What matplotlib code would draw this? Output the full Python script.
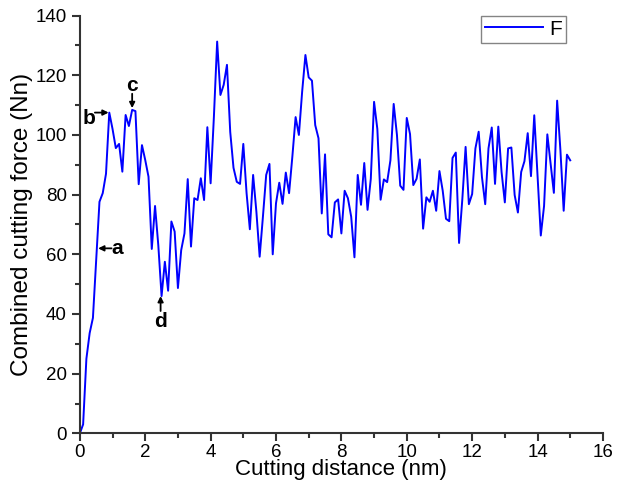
# import relevant libraries
import numpy as np
import matplotlib.pyplot as plt
from matplotlib.ticker import MultipleLocator

plt.rcParams['font.family'] = ['Liberation Sans', 'DejaVu Sans']

# combined cutting force, sampled every 0.1 nm from 0 to 15 nm
force = [0, 3, 25, 33.6, 38.7, 58, 77.6, 80.5, 87, 107.5,
         102, 95.6, 97, 87.7, 106.7, 103, 108.4, 108, 83.5, 96.6,
         91.6, 86, 61.8, 76.2, 63, 46, 57.5, 47.8, 71, 67.6,
         48.7, 61.4, 67, 85.2, 62.6, 78.8, 78.2, 85.5, 78.2, 102.6,
         83.8, 106, 131.3, 113.4, 116.8, 123.5, 101, 89, 84.3, 83.6,
         97, 80.5, 68.4, 86.6, 74.3, 59.2, 72.6, 86.6, 90.3, 60,
         77.1, 84, 76.9, 87.4, 80.5, 92.7, 106, 100, 114.5, 126.8,
         119.3, 118.2, 103.3, 98.9, 73.7, 93.5, 66.7, 65.7, 77.4, 78.4,
         67, 81.3, 78.8, 72.6, 59, 86.6, 76.6, 90.6, 74.9, 85.3,
         111.1, 102, 78.3, 85.1, 84.2, 91.5, 110.4, 100, 83, 81.6,
         105.7, 100.3, 83.2, 85.3, 91.8, 68.6, 79.1, 77.6, 81.3, 74.6,
         87.9, 81.3, 71.9, 71.1, 92.3, 94.1, 63.8, 78.5, 96, 76.8,
         80.2, 95.5, 101.1, 85.9, 76.8, 95.5, 102.5, 83.6, 102.8, 87.6,
         77.4, 95.5, 95.8, 79.9, 74, 87.6, 91.2, 100.6, 86.2, 106.6,
         86.4, 66.3, 76.2, 100.2, 90.4, 80.6, 111.5, 94.9, 74.6, 93.4,
         91.5]
distance = np.arange(len(force)) / 10

# labelled points: (label, arrow tip, text position, arrow tail)
labels = ['a', 'b', 'c', 'd']
tips = [(0.56, 62), (0.88, 107.5), (1.6, 109), (2.47, 46)]
text_pos = [(1.15, 62), (0.27, 105.6), (1.6, 116.5), (2.47, 37.4)]
tails = [(0.97, 62), (0.46, 107.5), (1.6, 113.8), (2.47, 41)]

fig = plt.figure(figsize=(6.19, 4.88), dpi=100)
ax = fig.add_axes([0.129, 0.112, 0.845, 0.856])

ax.plot(distance, force, color='#0000ff', linewidth=1.4, label='F')

for lab, tip, tpos, tail in zip(labels, tips, text_pos, tails):
    ax.annotate('', xy=tip, xytext=tail,
                arrowprops=dict(arrowstyle='-|>', color='k', lw=1.3,
                                mutation_scale=8, shrinkA=0, shrinkB=0))
    ax.text(tpos[0], tpos[1], lab, fontsize=15, fontweight='bold',
            ha='center', va='center')

ax.set_xlim(0, 16)
ax.set_ylim(0, 140)
ax.xaxis.set_major_locator(MultipleLocator(2))
ax.xaxis.set_minor_locator(MultipleLocator(1))
ax.yaxis.set_major_locator(MultipleLocator(20))
ax.yaxis.set_minor_locator(MultipleLocator(10))

for side in ['top', 'right']:
    ax.spines[side].set_visible(False)
for side in ['left', 'bottom']:
    ax.spines[side].set_linewidth(1.5)
    ax.spines[side].set_color('#333333')
ax.tick_params(which='major', direction='out', length=6, width=1.5,
               color='#333333', labelsize=13.5)
ax.tick_params(which='minor', direction='out', length=3.5, width=1.5,
               color='#333333')
ax.tick_params(axis='x', which='major', pad=1.5)

ax.set_xlabel('Cutting distance (nm)', fontsize=16, labelpad=-1)
ax.set_ylabel('Combined cutting force (Nn)', fontsize=17.5, labelpad=2)

leg = ax.legend(loc='upper right', bbox_to_anchor=(0.93, 1.0), fontsize=15,
                fancybox=False, handlelength=2.8, borderpad=0.2,
                handletextpad=0.3, borderaxespad=0)
leg.get_frame().set_edgecolor('#666666')
leg.get_frame().set_linewidth(1.0)

plt.savefig('out.png', dpi=100)
